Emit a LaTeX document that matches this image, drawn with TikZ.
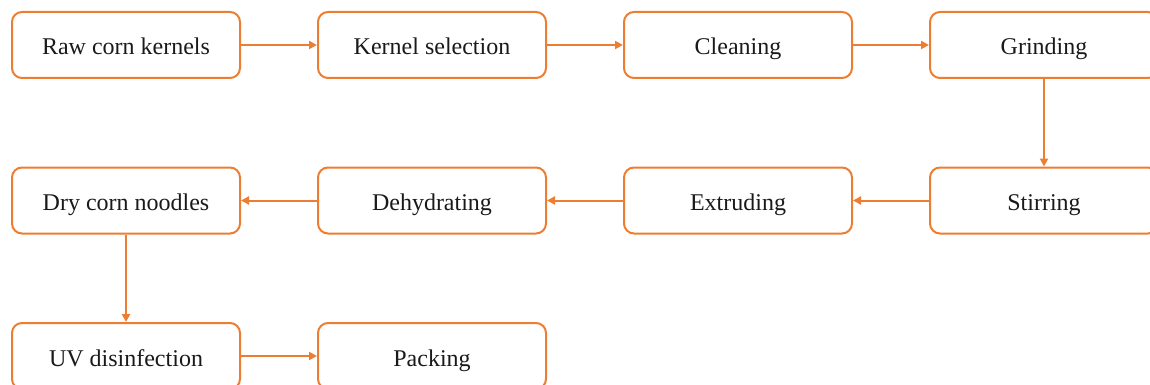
\documentclass[tikz,border=0pt]{standalone}
\usepackage{fontspec}
\setmainfont{Liberation Serif}
\usetikzlibrary{arrows.meta}
\definecolor{flow}{HTML}{ED7D31}
\definecolor{txt}{HTML}{1A1A1A}
\begin{document}
\begin{tikzpicture}[x=0.5pt,y=-0.5pt,
  stepbox/.style={draw=flow,line width=1pt,rounded corners=5pt,minimum width=114pt,minimum height=33pt,inner sep=0pt,text height=11pt,text depth=1pt,text=txt,font=\fontsize{12pt}{14pt}\selectfont,fill=white},
  link/.style={draw=flow,line width=1pt,-{Triangle[length=4pt,width=4pt]}}]
\useasboundingbox (0,0) rectangle (1150,385);
\node[stepbox] (a) at (126,45) {Raw corn kernels};
\node[stepbox] (b) at (432,45) {Kernel selection};
\node[stepbox] (c) at (738,45) {Cleaning};
\node[stepbox] (d) at (1044,45) {Grinding};
\node[stepbox] (e) at (1044,200.5) {Stirring};
\node[stepbox] (f) at (738,200.5) {Extruding};
\node[stepbox] (g) at (432,200.5) {Dehydrating};
\node[stepbox] (h) at (126,200.5) {Dry corn noodles};
\node[stepbox] (i) at (126,356) {UV disinfection};
\node[stepbox] (j) at (432,356) {Packing};
\draw[link] (a) -- (b);
\draw[link] (b) -- (c);
\draw[link] (c) -- (d);
\draw[link] (d) -- (e);
\draw[link] (e) -- (f);
\draw[link] (f) -- (g);
\draw[link] (g) -- (h);
\draw[link] (h) -- (i);
\draw[link] (i) -- (j);
\end{tikzpicture}
\end{document}
